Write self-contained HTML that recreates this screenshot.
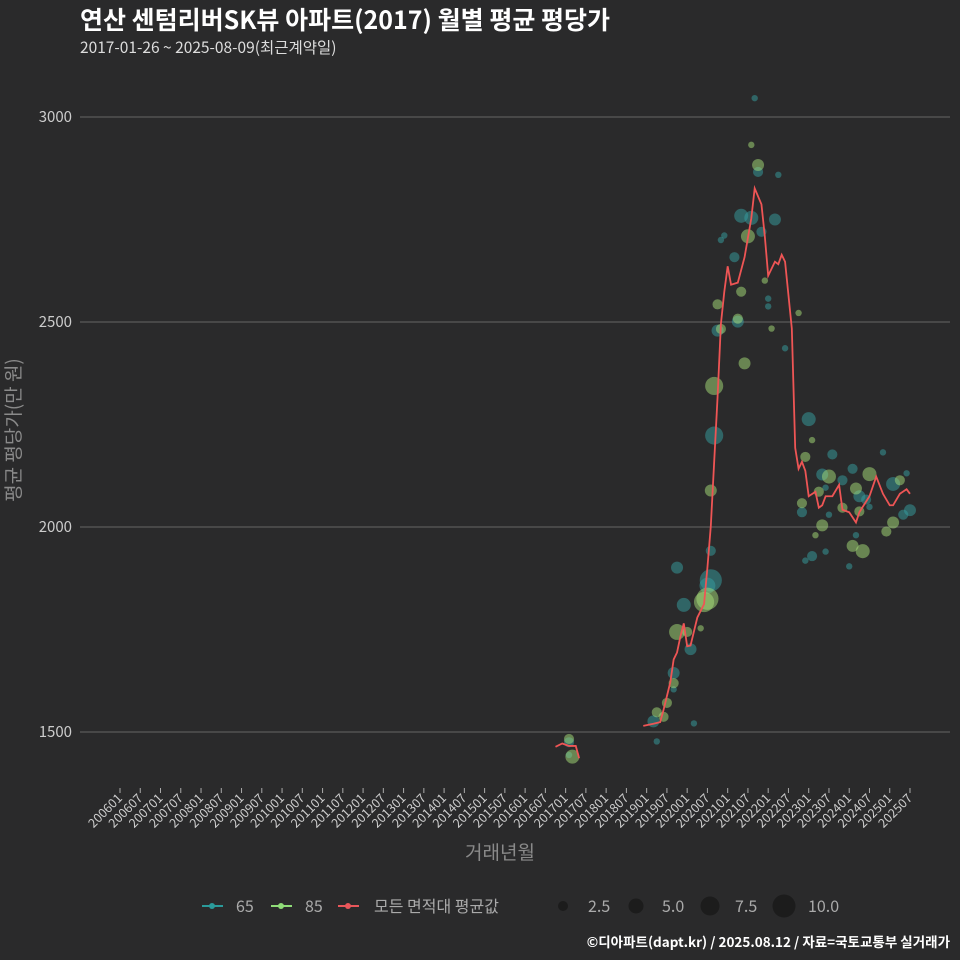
<!DOCTYPE html>
<html><head><meta charset="utf-8"><style>
body{margin:0;background:#2a2a2b;}
svg{display:block;font-family:"Liberation Sans","Noto Sans CJK KR",sans-serif;}
.k{font-family:"Noto Sans CJK KR","Liberation Sans",sans-serif;}
</style></head><body>
<svg id="c" width="960" height="960" xmlns="http://www.w3.org/2000/svg">
<rect width="960" height="960" fill="#2a2a2b"/>
<text class="k" x="80" y="29" fill="#ffffff" font-size="25" font-weight="bold">연산 센텀리버SK뷰 아파트(2017) 월별 평균 평당가</text>
<text class="k" x="80" y="53" fill="#dddddd" font-size="15.5">2017-01-26 ~ 2025-08-09(최근계약일)</text>
<text class="k" transform="translate(20,430) rotate(-90)" text-anchor="middle" fill="#8a8a8a" font-size="19">평균 평당가(만 원)</text>
<text class="k" x="500" y="859" text-anchor="middle" fill="#8a8a8a" font-size="19">거래년월</text>
<g id="grid"></g><g id="xt"></g><g id="bub"></g><g id="ln"></g>
<g class="k">
<g><line x1="202" y1="906" x2="223" y2="906" stroke="#2a9a9a" stroke-width="2"/><circle cx="212" cy="906" r="3" fill="#2a9a9a"/><text x="236" y="912" fill="#aaaaaa" font-size="16">65</text></g>
<g><line x1="271" y1="906" x2="292" y2="906" stroke="#8fdc78" stroke-width="2"/><circle cx="281" cy="906" r="3" fill="#8fdc78"/><text x="305" y="912" fill="#aaaaaa" font-size="16">85</text></g>
<g><line x1="338" y1="906" x2="359" y2="906" stroke="#e8565a" stroke-width="2"/><circle cx="348" cy="906" r="3" fill="#e8565a"/><text x="374" y="912" fill="#aaaaaa" font-size="16">모든 면적대 평균값</text></g>
<g>
<circle cx="563" cy="906" r="5" fill="#1c1c1c"/><text x="588" y="912" fill="#aaaaaa" font-size="16">2.5</text>
<circle cx="636" cy="906" r="7.5" fill="#1c1c1c"/><text x="662" y="912" fill="#aaaaaa" font-size="16">5.0</text>
<circle cx="710" cy="906" r="9.5" fill="#1c1c1c"/><text x="735" y="912" fill="#aaaaaa" font-size="16">7.5</text>
<circle cx="784" cy="906" r="11.5" fill="#1c1c1c"/><text x="808" y="912" fill="#aaaaaa" font-size="16">10.0</text>
</g></g>
<text class="k" x="950" y="947" text-anchor="end" fill="#ffffff" font-size="13.5" font-weight="bold">©디아파트(dapt.kr) / 2025.08.12 / 자료=국토교통부 실거래가</text>
</svg>
<script>
const yTicks=[1500,2000,2500,3000];
const lineMonths=["201610","201612","201702","201704","201705","201812","201903","201905","201906","201908","201909","201910","201911","201912","202001","202002","202004","202006","202007","202008","202009","202010","202011","202012","202101","202102","202104","202106","202108","202109","202111","202112","202201","202203","202204","202205","202206","202208","202209","202210","202211","202212","202301","202303","202304","202305","202306","202308","202310","202311","202401","202403","202404","202407","202409","202411","202501","202502","202504","202506","202507"];
const lineValues=[1464,1472,1466,1466,1436,1515,1520,1524,1554,1621,1677,1694,1733,1765,1709,1711,1779,1812,1901,2002,2159,2316,2496,2574,2636,2591,2596,2658,2753,2826,2787,2709,2613,2647,2641,2664,2647,2484,2193,2142,2159,2137,2075,2086,2047,2053,2075,2075,2103,2042,2036,2011,2036,2075,2123,2081,2053,2053,2081,2092,2081];
const tealMonths=["202109","202204","202110","202105","202108","202111","202203","202011","202012","202103","202201","202201","202104","202010","202206","202009","202301","202308","202305","202402","202411","202311","202404","202502","202506","202306","202211","202406","202407","202507","202505","202403","202307","202302","202212","202306","202401","202008","201910","202008","202007","201912","202002","201909","201909","201903","202003","201904","201702","201702"];
const tealValues=[3046,2859,2866,2759,2754,2720,2750,2700,2711,2658,2557,2538,2501,2479,2436,2223,2263,2177,2128,2142,2182,2114,2075,2105,2131,2096,2036,2067,2049,2041,2030,1980,2030,1929,1918,1940,1904,1942,1901,1870,1857,1810,1702,1644,1604,1526,1521,1477,1475,1444];
const tealCounts=[1,1,2.5,4.8,4.8,2.5,3.5,1,1,2.5,1,1,3.5,3.5,1,8,4.8,2.5,3.5,2.5,1,2.5,3.5,4.8,1,1,2.5,2.5,1,3.5,2.5,1,1,2.5,1,1,1,2.5,3.5,12,6.2,4.8,3.5,3.5,1,3.5,1,1,2.5,1];
const greenMonths=["202108","202110","202107","202105","202112","202010","202104","202011","202202","202210","202106","202009","202008","202302","202212","202307","202403","202407","202504","202304","202211","202311","202404","202305","202502","202412","202303","202402","202405","202007","202006","201910","202001","202005","201909","201907","201904","201906","201702","201703"];
const greenValues=[2932,2883,2709,2574,2601,2543,2508,2483,2484,2522,2399,2344,2089,2212,2171,2123,2094,2129,2114,2086,2058,2047,2038,2004,2011,1989,1980,1954,1941,1825,1817,1744,1744,1753,1619,1571,1548,1537,1483,1440];
const greenCounts=[1,3.5,4.8,2.5,1,2.5,2.5,2.5,1,1,3.5,8,3.5,1,2.5,4.8,3.5,4.8,2.5,2.5,2.5,2.5,2.5,3.5,3.5,2.5,1,3.5,4.8,12,10,6.2,2.5,1,2.5,2.5,2.5,2.5,2.5,4.8];

const NS="http://www.w3.org/2000/svg";
function mIdx(s){return (parseInt(s.slice(0,4))-2006)*12+parseInt(s.slice(4))-1;}
function xS(s){return 120+mIdx(s)*3.376;}
function yS(v){return 732-(v-1500)*0.41;}
function rS(n){return Math.sqrt(n)*3.2;}
function mk(tag,attrs,parent){const e=document.createElementNS(NS,tag);for(const k in attrs)e.setAttribute(k,attrs[k]);parent.appendChild(e);return e;}
const grid=document.getElementById('grid');
yTicks.forEach(t=>{
 const l=mk('line',{x1:80,x2:950,y1:yS(t),y2:yS(t),stroke:'#5a5a5a','stroke-width':1.2},grid);
 
 
 const tx=mk('text',{x:72,y:yS(t)+5,'text-anchor':'end',fill:'#cccccc','font-size':15,'class':'k'},grid);
 tx.textContent=t;
 
 
});
const xt=document.getElementById('xt');
for(let y=2006;y<=2025;y++){for(const mo of ["01","07"]){
 const lab=y+mo;const x=xS(lab);
 const tk=mk('line',{x1:x,x2:x,y1:788,y2:793,stroke:'#aaaaaa','stroke-width':1},xt);
 
 
 const tx=mk('text',{transform:`translate(${x+3},${799}) rotate(-45)`,'text-anchor':'end',fill:'#cccccc','font-size':12.5,'class':'k'},xt);
 tx.textContent=lab;
 
 
}}
const bub=document.getElementById('bub');
tealMonths.forEach((m,i)=>{
 const c=mk('circle',{cx:xS(m),cy:yS(tealValues[i]),r:rS(tealCounts[i]),fill:'#36a0a2','fill-opacity':0.5},bub);
 
 
});
greenMonths.forEach((m,i)=>{
 const c=mk('circle',{cx:xS(m),cy:yS(greenValues[i]),r:rS(greenCounts[i]),fill:'#a8df7a','fill-opacity':0.5},bub);
 
 
});
const ln=document.getElementById('ln');
let segs=[],cur=[];
lineMonths.forEach((m,i)=>{
 if(cur.length&&mIdx(m)-mIdx(lineMonths[i-1])>6){segs.push(cur);cur=[];}
 cur.push([xS(m),yS(lineValues[i])]);
});
segs.push(cur);
segs.forEach(s=>{
 const p=mk('polyline',{points:s.map(q=>q.join(',')).join(' '),fill:'none',stroke:'#ee5555','stroke-width':1.8},ln);
 
 
});
</script>
</body></html>
